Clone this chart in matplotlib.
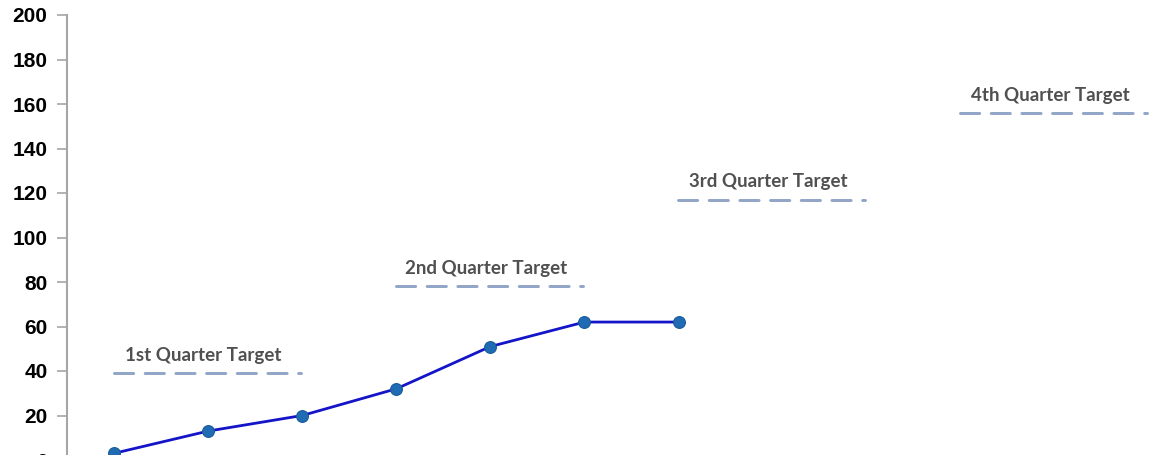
import matplotlib
matplotlib.use("Agg")
import matplotlib.pyplot as plt

months = list(range(12))
actual = [3, 13, 20, 32, 51, 62, 62]
target_labels = ["1st Quarter Target", "2nd Quarter Target", "3rd Quarter Target", "4th Quarter Target"]
target_values = [39, 78, 117, 156]
target_starts = [0, 3, 6, 9]
target_ends = [2, 5, 8, 11]
yticks = list(range(0, 201, 20))

fig = plt.figure(figsize=(11.53, 4.55), dpi=100)
ax = fig.add_axes([67/1153, -5/455, (1196-67)/1153, 445/455])

ax.plot(months[:len(actual)], actual, color="#1414C8", lw=2.0, zorder=3,
        marker="o", markersize=8.5, markerfacecolor="#1F6CB4", markeredgecolor="#1A5A9A",
        markeredgewidth=0.8)

for lab, v, s, e in zip(target_labels, target_values, target_starts, target_ends):
    ax.plot([s - 0.005, e - 0.016], [v, v], color="#93A6C8", lw=2.16,
            linestyle=(0, (6.4, 3.83)), dash_capstyle="round", solid_capstyle="round", zorder=2)
    ax.text((s + e) / 2 - 0.05, v + 8, lab, ha="center", va="center", fontsize=13.5,
            fontweight="bold", color="#505050", family="Lato")

ax.set_xlim(-0.5, 11.5)
ax.set_ylim(0, 200)
ax.set_yticks(yticks)
ax.set_xticks([])
for sp in ["top", "right", "bottom"]:
    ax.spines[sp].set_visible(False)
ax.spines["left"].set_color("#A6A6A6")
ax.spines["left"].set_linewidth(1.5)
ax.tick_params(axis="y", direction="out", length=7, width=1.2, color="#A6A6A6",
               pad=7, labelsize=15)
for t in ax.get_yticklabels():
    t.set_fontweight("bold")
    t.set_family("Liberation Sans")

fig.savefig("out.png", dpi=100)
